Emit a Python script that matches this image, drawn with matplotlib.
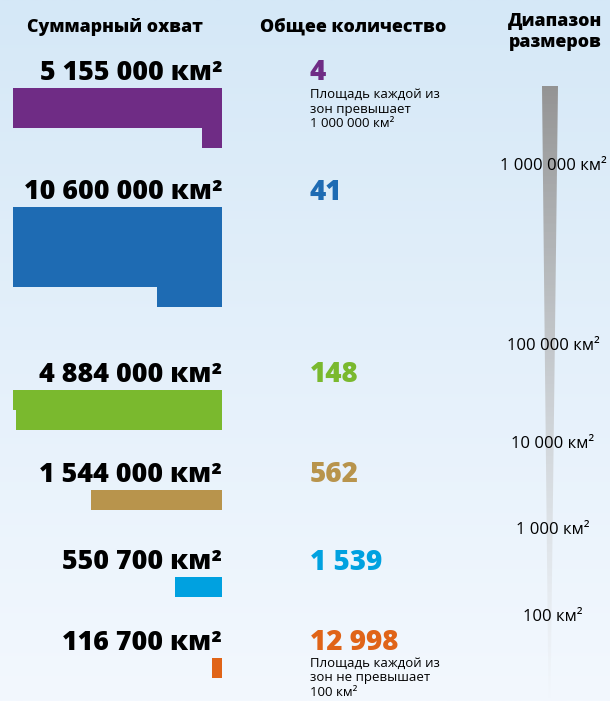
import matplotlib
matplotlib.use("Agg")
import matplotlib.pyplot as plt
import numpy as np
from matplotlib.patches import Rectangle, Polygon

# --- data ---
total_labels = ["5 155 000 км²", "10 600 000 км²", "4 884 000 км²",
                "1 544 000 км²", "550 700 км²", "116 700 км²"]
total_area = [5155000, 10600000, 4884000, 1544000, 550700, 116700]  # km²
counts = ["4", "41", "148", "562", "1 539", "12 998"]
colors = ["#6f2c85", "#1e6bb3", "#7ab92e", "#b8944c", "#00a1e0", "#e06418"]
note_top = "Площадь каждой из\nзон превышает\n1 000 000 км²"
note_bottom = "Площадь каждой из\nзон не превышает\n100 км²"
size_labels = ["1 000 000 км²", "100 000 км²", "10 000 км²", "1 000 км²", "100 км²"]

# --- layout (pixel coordinates) ---
W, H = 610, 701
row_y = [73, 192, 375, 475, 562, 643]      # label centre of each row
size_y = [166, 346, 444, 530, 617]
right_x = 222       # blocks are right-aligned here
block_w = 209       # full row width
unit_h = 20         # height of one row of a block
px_per_km2 = 1700 / 1e6

FONT = ["Open Sans", "DejaVu Sans"]

fig = plt.figure(figsize=(W / 100, H / 100), dpi=100)
ax = fig.add_axes([0, 0, 1, 1])
ax.set_xlim(0, W)
ax.set_ylim(H, 0)
ax.axis("off")

# background gradient
top = np.array([213, 232, 247]) / 255
bot = np.array([243, 248, 254]) / 255
t = np.linspace(0, 1, 256)[:, None]
grad = (top * (1 - t) + bot * t)[:, None, :]
ax.imshow(grad, extent=(0, W, H, 0), aspect="auto", zorder=0)

# headers
ax.text(115, 27, "Суммарный охват", ha="center", va="center", fontsize=12.8,
        fontweight=800, family=FONT)
ax.text(353, 27, "Общее количество", ha="center", va="center", fontsize=12.8,
        fontweight=800, family=FONT)
ax.text(555, 32, "Диапазон\nразмеров", ha="center", va="center", fontsize=12.8,
        fontweight=800, family=FONT, linespacing=1.3)

# area blocks: full rows of width block_w, remainder as a partial row
for y, area, lab, cnt, col in zip(row_y, total_area, total_labels, counts, colors):
    ax.text(right_x, y, lab, ha="right", va="center", fontsize=19.3,
            fontweight=800, family=FONT)
    px = area * px_per_km2
    n_full = int(px // (block_w * unit_h))
    rest = px - n_full * block_w * unit_h
    y0 = y + 15
    if n_full:
        ax.add_patch(Rectangle((right_x - block_w, y0), block_w, n_full * unit_h,
                               color=col, lw=0, zorder=2))
    ax.add_patch(Rectangle((right_x - rest / unit_h, y0 + n_full * unit_h),
                           rest / unit_h, unit_h, color=col, lw=0, zorder=2))
    ax.text(310, y, cnt, ha="left", va="center", fontsize=20,
            fontweight=800, color=col, family=FONT)

ax.text(310, 88, note_top, ha="left", va="top", fontsize=9.5,
        family=FONT, linespacing=1.15)
ax.text(310, 657, note_bottom, ha="left", va="top", fontsize=9.5,
        family=FONT, linespacing=1.15)

# size range wedge
wedge = Polygon([(542, 86), (558, 86), (550.5, 700), (548.5, 700)],
                closed=True, facecolor="none", edgecolor="none")
ax.add_patch(wedge)
g = np.zeros((256, 1, 4))
g[..., :3] = 0.58 + 0.3 * t[:, :, None] * np.ones((1, 1, 3))
g[..., 3] = (1 - t) ** 0.7
im = ax.imshow(g, extent=(540, 560, 700, 86), aspect="auto", zorder=1)
im.set_clip_path(wedge)

for y, lab in zip(size_y, size_labels):
    ax.text(553, y, lab, ha="center", va="center", fontsize=12, family=FONT)

fig.savefig("out.png", dpi=100)
